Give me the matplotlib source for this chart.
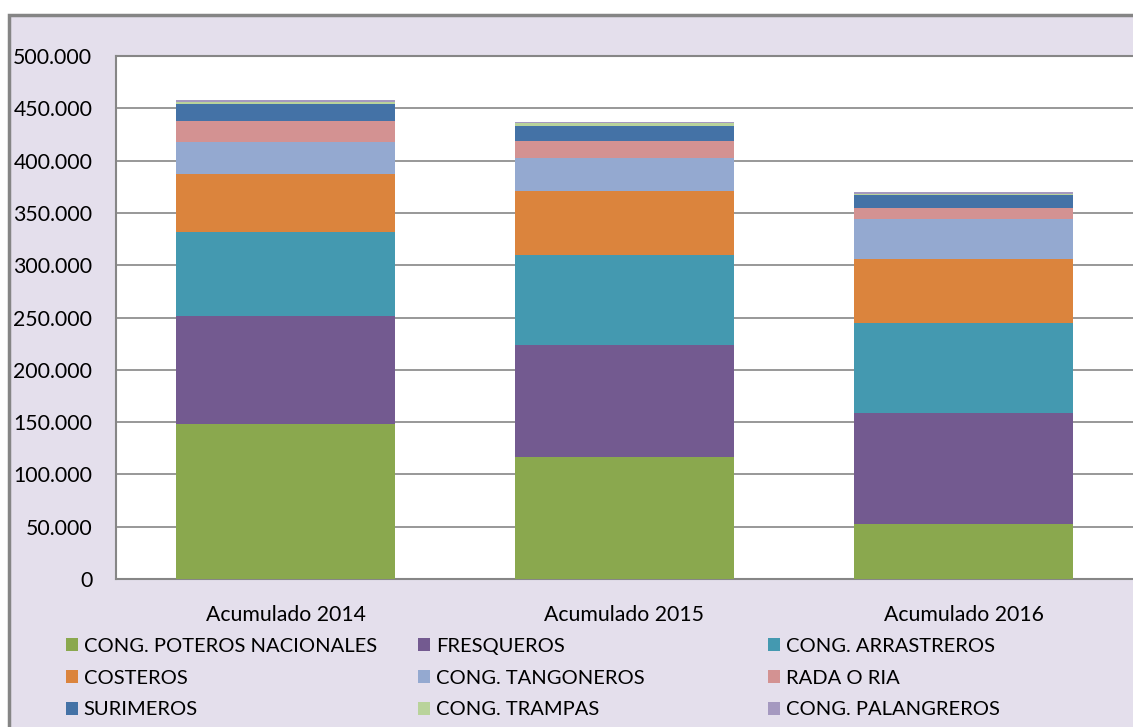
import matplotlib
matplotlib.use("Agg")
import matplotlib.pyplot as plt
from matplotlib.patches import Rectangle
from matplotlib.ticker import FuncFormatter
import numpy as np

categories = ["Acumulado 2014", "Acumulado 2015", "Acumulado 2016"]
series_names = ["CONG. POTEROS NACIONALES", "FRESQUEROS", "CONG. ARRASTREROS",
                "COSTEROS", "CONG. TANGONEROS", "RADA O RIA",
                "SURIMEROS", "CONG. TRAMPAS", "CONG. PALANGREROS"]
poteros = [148200, 116600, 52600]
fresqueros = [103200, 107100, 106100]
arrastreros = [80300, 86100, 86000]
costeros = [55500, 61100, 61200]
tangoneros = [30900, 31900, 38000]
rada = [19800, 15900, 10800]
surimeros = [16200, 14400, 12400]
trampas = [2200, 2900, 1000]
palangreros = [1600, 900, 1900]
series_values = [poteros, fresqueros, arrastreros, costeros, tangoneros,
                 rada, surimeros, trampas, palangreros]
colors = ["#8AA84E", "#735A90", "#4499B0", "#DB843D", "#94A9D0",
          "#D39292", "#4472A6", "#B9D39B", "#A599C0"]
yticks = [0, 50000, 100000, 150000, 200000, 250000, 300000, 350000, 400000, 450000, 500000]

plt.rcParams['font.family'] = ['Lato', 'DejaVu Sans']
W, H = 1133, 727
fig = plt.figure(figsize=(W/100, H/100), dpi=100, facecolor="white")
fig.patches.append(Rectangle((9/W, -0.1), 1.2, 1.1 - 15/H, transform=fig.transFigure,
                             facecolor="#E4DFEC", edgecolor="#858585", linewidth=2.5,
                             zorder=-10))

ax = fig.add_axes([116/W, 1 - 579/H, (1133-116)/W, (579-56)/H])
ax.set_facecolor("white")
x = np.arange(len(categories))
bottom = np.zeros(len(categories))
handles = []
for name, vals, c in zip(series_names, series_values, colors):
    b = ax.bar(x, vals, 0.646, bottom=bottom, color=c, label=name, zorder=3)
    handles.append(b)
    bottom += np.array(vals)

ax.set_xlim(-0.5, 2.5)
ax.set_ylim(0, 500000)
ax.set_yticks(yticks)
ax.yaxis.set_major_formatter(FuncFormatter(lambda v, p: f"{int(v):,}".replace(",", ".")))
ax.grid(axis="y", color="#868686", linewidth=1.2, zorder=0)
for s in ax.spines.values():
    s.set_color("#868686")
    s.set_linewidth(1.5)
ax.spines["right"].set_visible(False)
ax.tick_params(axis="y", length=0, labelsize=15.3, pad=17, colors="black")
ax.tick_params(axis="x", length=0, labelsize=15.3, pad=19)
ax.set_xticks(x)
ax.set_xticklabels(categories)

col_x = [66, 418, 768]
for ci in range(3):
    idx = [ci, ci + 3, ci + 6]
    fig.legend(handles=[handles[i] for i in idx], labels=[series_names[i] for i in idx],
               loc="center left", bbox_to_anchor=(col_x[ci]/W, 1 - 678/H),
               frameon=False, fontsize=14.5, borderpad=0, borderaxespad=0,
               handlelength=0.6, handleheight=0.6, handletextpad=0.28,
               labelspacing=0.74)
fig.savefig("out.png", dpi=100, facecolor="white")
